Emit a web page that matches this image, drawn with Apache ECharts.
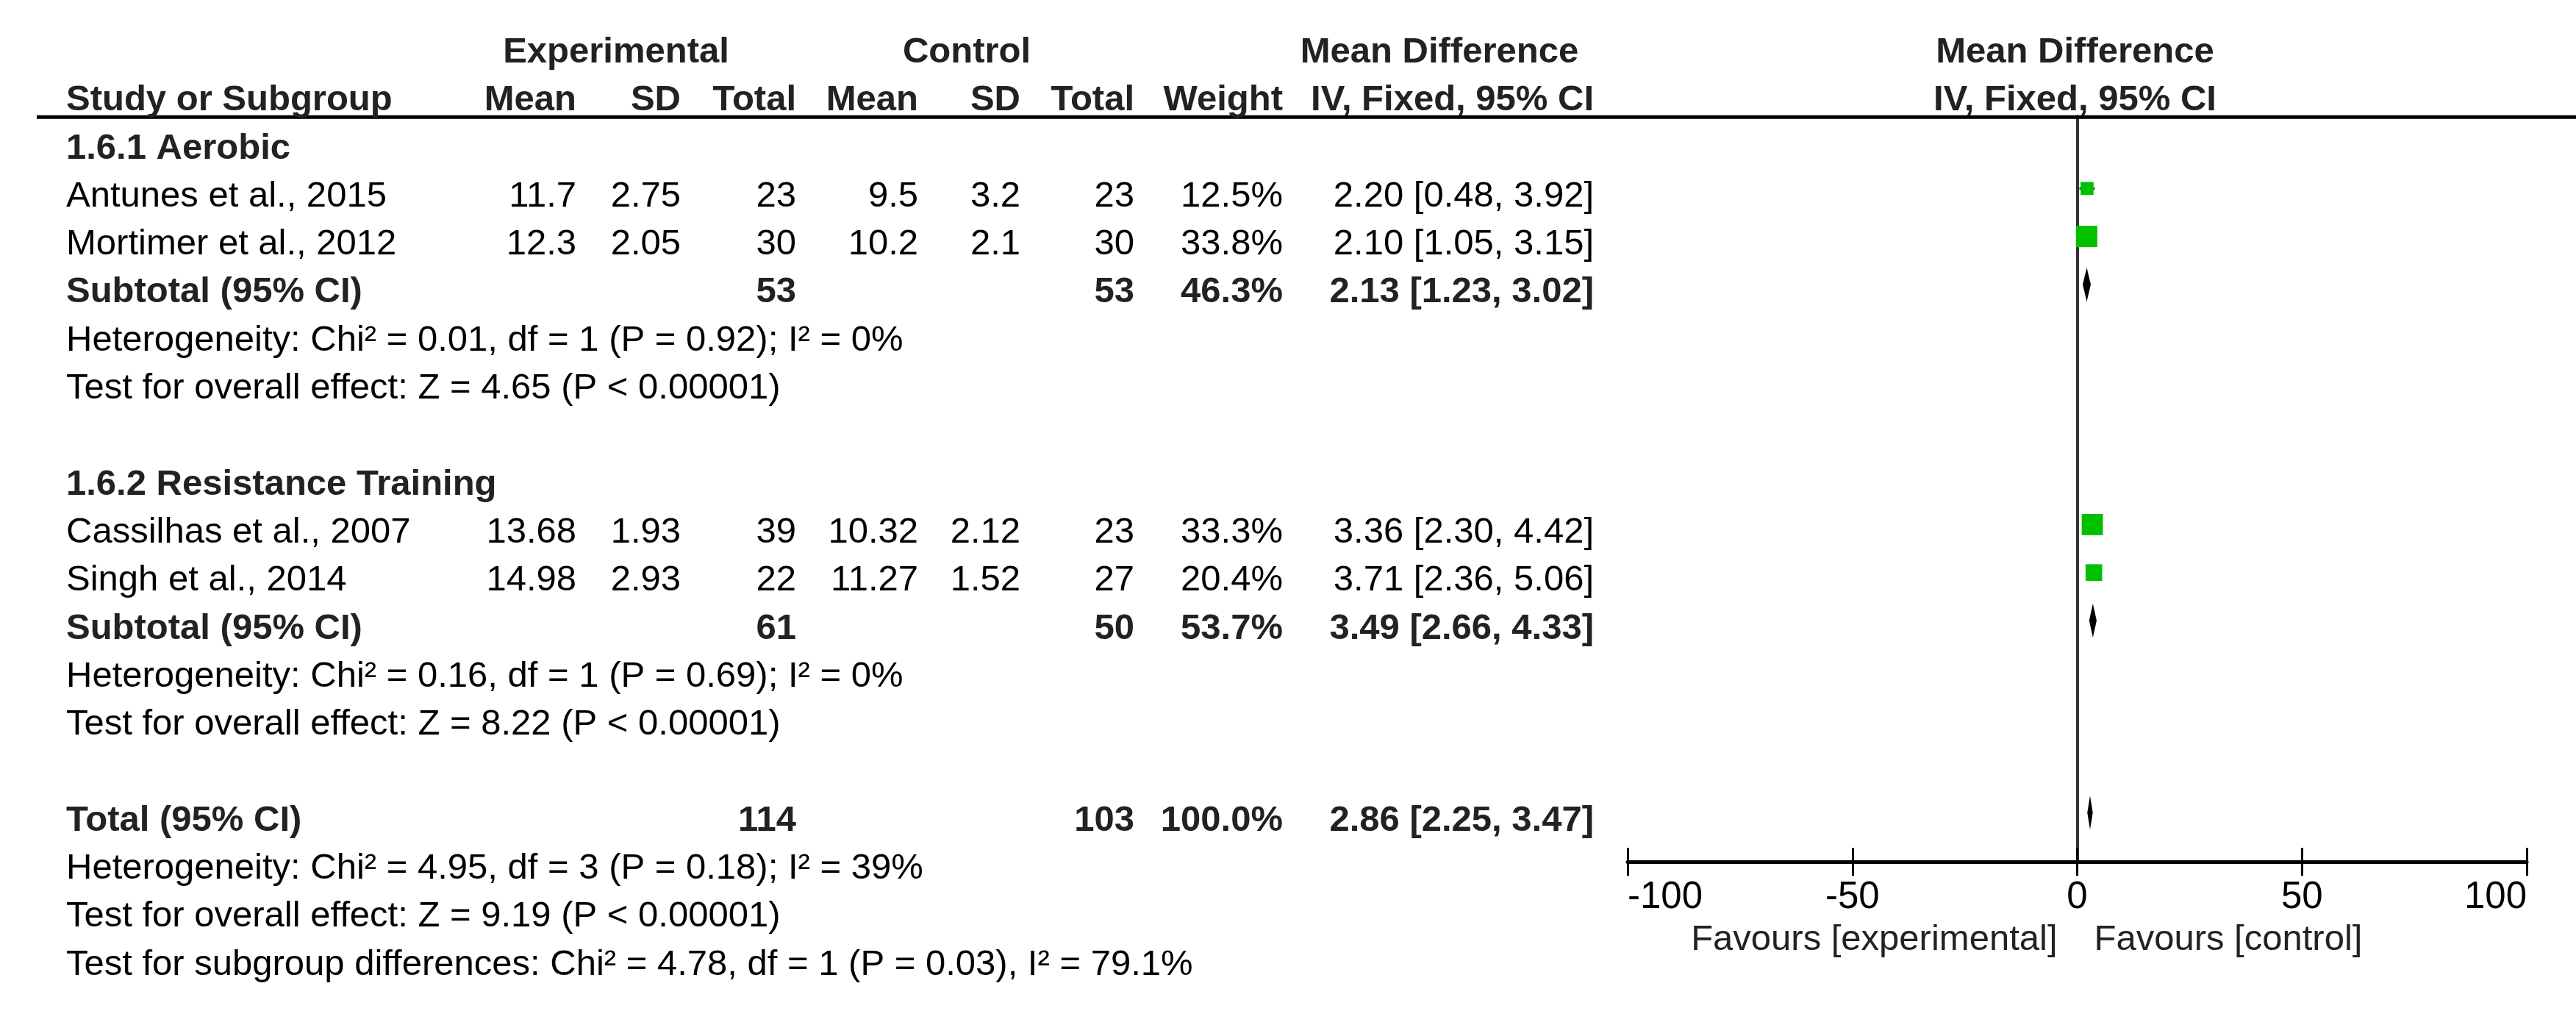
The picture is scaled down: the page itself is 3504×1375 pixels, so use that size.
<!DOCTYPE html>
<html>
<head>
<meta charset="utf-8">
<script src="https://cdn.jsdelivr.net/npm/echarts@6/dist/echarts.min.js"></script>
<style>
html,body{margin:0;padding:0;background:#fff;}
#c{width:3504px;height:1375px;}
</style>
</head>
<body>
<div id="c"></div>
<script>
// ---------------- data ----------------
const groupNames = ['1.6.1 Aerobic', '1.6.2 Resistance Training'];
const studyNames = ['Antunes et al., 2015', 'Mortimer et al., 2012', 'Cassilhas et al., 2007', 'Singh et al., 2014'];
const studyGroup = [0, 0, 1, 1];
const expMean = [11.7, 12.3, 13.68, 14.98];
const expSD = [2.75, 2.05, 1.93, 2.93];
const expTotal = [23, 30, 39, 22];
const ctlMean = [9.5, 10.2, 10.32, 11.27];
const ctlSD = [3.2, 2.1, 2.12, 1.52];
const ctlTotal = [23, 30, 23, 27];
const studyWeight = [12.5, 33.8, 33.3, 20.4];
const studyMD = [2.20, 2.10, 3.36, 3.71];
const studyLow = [0.48, 1.05, 2.30, 2.36];
const studyHigh = [3.92, 3.15, 4.42, 5.06];

const subExpTotal = [53, 61];
const subCtlTotal = [53, 50];
const subWeight = [46.3, 53.7];
const subMD = [2.13, 3.49];
const subLow = [1.23, 2.66];
const subHigh = [3.02, 4.33];
const groupHet = ['Heterogeneity: Chi\u00b2 = 0.01, df = 1 (P = 0.92); I\u00b2 = 0%', 'Heterogeneity: Chi\u00b2 = 0.16, df = 1 (P = 0.69); I\u00b2 = 0%'];
const groupEffect = ['Test for overall effect: Z = 4.65 (P < 0.00001)', 'Test for overall effect: Z = 8.22 (P < 0.00001)'];

const totalExp = 114;
const totalCtl = 103;
const totalWeight = 100.0;
const totalMD = 2.86;
const totalLow = 2.25;
const totalHigh = 3.47;
const totalNotes = [
  'Heterogeneity: Chi\u00b2 = 4.95, df = 3 (P = 0.18); I\u00b2 = 39%',
  'Test for overall effect: Z = 9.19 (P < 0.00001)',
  'Test for subgroup differences: Chi\u00b2 = 4.78, df = 1 (P = 0.03), I\u00b2 = 79.1%'
];
const axisMin = -100, axisMax = 100, axisStep = 50;
const favourLeft = 'Favours [experimental]';
const favourRight = 'Favours [control]';
const headTop = ['Experimental', 'Control', 'Mean Difference', 'Mean Difference'];
const headCols = ['Study or Subgroup', 'Mean', 'SD', 'Total', 'Mean', 'SD', 'Total', 'Weight', 'IV, Fixed, 95% CI', 'IV, Fixed, 95% CI'];

// ---------------- layout ----------------
const FONT = '"Liberation Sans", Arial, Helvetica, sans-serif';
const FS = 49;
const colRight = [784, 926, 1083, 1249, 1388, 1543, 1745, 2168];
const headCenter = [838, 1315, 1958];
const leftX = 90;
const SQUARE_K = 5.0;
const DIAMOND_H = 23;
const TEXT_DY = 11;

// build row structure
const rows = [];
groupNames.forEach((g, gi) => {
  rows.push({kind: 'group', gi});
  studyNames.forEach((s, si) => { if (studyGroup[si] === gi) rows.push({kind: 'study', si}); });
  rows.push({kind: 'subtotal', gi});
  rows.push({kind: 'note', text: groupHet[gi]});
  rows.push({kind: 'note', text: groupEffect[gi]});
  rows.push({kind: 'blank'});
});
rows.push({kind: 'total'});
totalNotes.forEach(t => rows.push({kind: 'note', text: t}));

const squareData = [];
const diamondData = [];
rows.forEach((r, i) => {
  if (r.kind === 'study') squareData.push([studyMD[r.si], studyLow[r.si], studyHigh[r.si], i, studyWeight[r.si]]);
  if (r.kind === 'subtotal') diamondData.push([subMD[r.gi], subLow[r.gi], subHigh[r.gi], i]);
  if (r.kind === 'total') diamondData.push([totalMD, totalLow, totalHigh, i]);
});

const chart = echarts.init(document.getElementById('c'), null, {renderer: 'canvas'});

const GRID_LEFT = 2214, GRID_W = 1223;
const ROW0 = 191, ROWH = 65.3, AXIS_Y = 1172;
const yMin = -0.5, yMax = (AXIS_Y - ROW0) / ROWH;
const gridTop = ROW0 + yMin * ROWH;

chart.setOption({
  backgroundColor: '#ffffff',
  animation: false,
  grid: {left: GRID_LEFT, width: GRID_W, top: gridTop, height: AXIS_Y - gridTop, containLabel: false},
  xAxis: [
    {
      type: 'value', min: axisMin, max: axisMax, interval: axisStep, position: 'bottom',
      axisLine: {show: true, onZero: false, lineStyle: {color: '#000', width: 5}},
      axisTick: {show: true, length: 19, lineStyle: {color: '#000', width: 3}},
      axisLabel: {show: true, margin: 23, color: '#000', fontSize: 51, fontFamily: FONT,
        alignMinLabel: 'left', alignMaxLabel: 'right'},
      splitLine: {show: false}
    },
    {
      type: 'value', min: axisMin, max: axisMax, interval: axisStep, position: 'bottom', gridIndex: 0,
      axisLine: {show: false, onZero: false},
      axisTick: {show: true, inside: true, length: 19, lineStyle: {color: '#000', width: 3}},
      axisLabel: {show: false},
      splitLine: {show: false}
    }
  ],
  yAxis: {
    type: 'value', inverse: true, min: yMin, max: yMax,
    axisLine: {show: true, onZero: true, lineStyle: {color: '#333', width: 4}},
    axisTick: {show: false}, axisLabel: {show: false}, splitLine: {show: false}
  },
  series: [
    {
      type: 'custom', name: 'studies', xAxisIndex: 0, yAxisIndex: 0,
      data: squareData, encode: {x: [0, 1, 2], y: 3}, z: 5,
      renderItem: function (params, api) {
        const r = api.value(3);
        const c = api.coord([api.value(0), r]);
        const a = api.coord([api.value(1), r]);
        const b = api.coord([api.value(2), r]);
        const s = SQUARE_K * Math.sqrt(api.value(4));
        return {type: 'group', children: [
          {type: 'line', shape: {x1: a[0], y1: a[1], x2: b[0], y2: b[1]}, style: {stroke: '#333', lineWidth: 3}},
          {type: 'rect', shape: {x: c[0] - s / 2, y: c[1] - s / 2, width: s, height: s}, style: {fill: '#00c000'}}
        ]};
      }
    },
    {
      type: 'custom', name: 'pooled', xAxisIndex: 0, yAxisIndex: 0,
      data: diamondData, encode: {x: [0, 1, 2], y: 3}, z: 5,
      renderItem: function (params, api) {
        const r = api.value(3);
        const c = api.coord([api.value(0), r]);
        const a = api.coord([api.value(1), r]);
        const b = api.coord([api.value(2), r]);
        return {type: 'polygon', shape: {points: [[a[0], a[1]], [c[0], c[1] - DIAMOND_H], [b[0], b[1]], [c[0], c[1] + DIAMOND_H]]}, style: {fill: '#000'}};
      }
    }
  ]
});

// ---------------- table text ----------------
function yPix(i) { return chart.convertToPixel({yAxisIndex: 0}, i); }
function xPix(v) { return chart.convertToPixel({xAxisIndex: 0}, v); }
const els = [];
function txt(text, x, y, align, bold, color) {
  els.push({type: 'text', x: x, y: y, silent: true, z: 10,
    style: {text: String(text), fontSize: FS, fontFamily: FONT, fontWeight: bold ? 'bold' : 'normal',
      fill: color || '#000', align: align, verticalAlign: 'middle'}});
}
function ci(m, l, h) { return m.toFixed(2) + ' [' + l.toFixed(2) + ', ' + h.toFixed(2) + ']'; }

const plotCenter = xPix(0) - 3;
// header
const yH1 = yPix(-2) + TEXT_DY, yH2 = yPix(-1) + TEXT_DY;
txt(headTop[0], headCenter[0], yH1, 'center', true, '#222');
txt(headTop[1], headCenter[1], yH1, 'center', true, '#222');
txt(headTop[2], headCenter[2], yH1, 'center', true, '#222');
txt(headTop[3], plotCenter, yH1, 'center', true, '#222');
txt(headCols[0], leftX, yH2, 'left', true, '#222');
for (let k = 1; k <= 8; k++) txt(headCols[k], colRight[k - 1], yH2, 'right', true, '#222');
txt(headCols[9], plotCenter, yH2, 'center', true, '#222');

els.push({type: 'line', silent: true, z: 9,
  shape: {x1: 50, y1: yPix(-0.5) + 1, x2: 3504, y2: yPix(-0.5) + 1},
  style: {stroke: '#000', lineWidth: 5}});

rows.forEach((r, i) => {
  const y = yPix(i) + TEXT_DY;
  if (r.kind === 'group') txt(groupNames[r.gi], leftX, y, 'left', true, '#222');
  else if (r.kind === 'study') {
    const s = r.si;
    txt(studyNames[s], leftX, y, 'left', false);
    const vals = [expMean[s], expSD[s], expTotal[s], ctlMean[s], ctlSD[s], ctlTotal[s], studyWeight[s].toFixed(1) + '%', ci(studyMD[s], studyLow[s], studyHigh[s])];
    vals.forEach((v, k) => txt(v, colRight[k], y, 'right', false));
  } else if (r.kind === 'subtotal') {
    const g = r.gi;
    txt('Subtotal (95% CI)', leftX, y, 'left', true, '#222');
    txt(subExpTotal[g], colRight[2], y, 'right', true, '#222');
    txt(subCtlTotal[g], colRight[5], y, 'right', true, '#222');
    txt(subWeight[g].toFixed(1) + '%', colRight[6], y, 'right', true, '#222');
    txt(ci(subMD[g], subLow[g], subHigh[g]), colRight[7], y, 'right', true, '#222');
  } else if (r.kind === 'total') {
    txt('Total (95% CI)', leftX, y, 'left', true, '#222');
    txt(totalExp, colRight[2], y, 'right', true, '#222');
    txt(totalCtl, colRight[5], y, 'right', true, '#222');
    txt(totalWeight.toFixed(1) + '%', colRight[6], y, 'right', true, '#222');
    txt(ci(totalMD, totalLow, totalHigh), colRight[7], y, 'right', true, '#222');
  } else if (r.kind === 'note') {
    txt(r.text, leftX, y, 'left', false);
  }
});

// favours labels
const yFav = AXIS_Y + 106;
txt(favourLeft, xPix(0) - 27, yFav, 'right', false, '#222');
txt(favourRight, xPix(0) + 23, yFav, 'left', false, '#222');

chart.setOption({graphic: {elements: els}});
</script>
</body>
</html>
